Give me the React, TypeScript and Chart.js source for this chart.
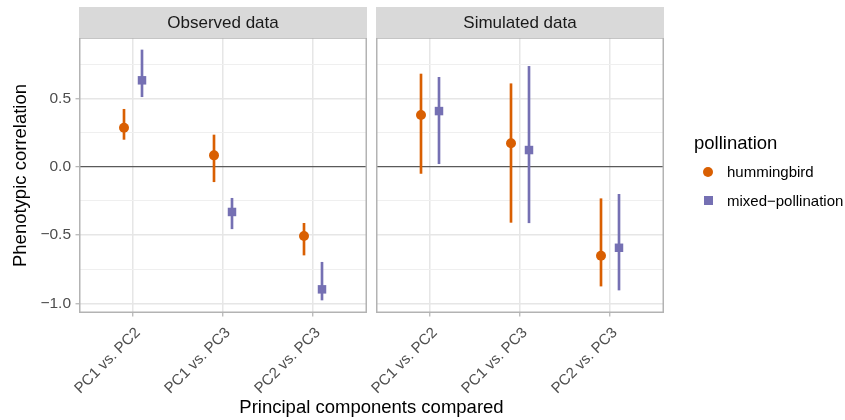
import React, { useEffect, useRef } from 'react';
import { Chart, registerables } from 'chart.js';

Chart.register(...registerables);

// ---- data ----
const categories = ['PC1 vs. PC2', 'PC1 vs. PC3', 'PC2 vs. PC3'];
const panels = ['Observed data', 'Simulated data'];
const groups = ['hummingbird', 'mixed\u2212pollination'];

const obsHumEst = [0.285, 0.083, -0.507];
const obsHumLo = [0.2, -0.11, -0.646];
const obsHumHi = [0.42, 0.232, -0.414];
const obsMixEst = [0.632, -0.331, -0.897];
const obsMixLo = [0.512, -0.454, -0.975];
const obsMixHi = [0.854, -0.231, -0.699];

const simHumEst = [0.378, 0.171, -0.651];
const simHumLo = [-0.049, -0.407, -0.873];
const simHumHi = [0.678, 0.607, -0.234];
const simMixEst = [0.407, 0.122, -0.593];
const simMixLo = [0.022, -0.41, -0.902];
const simMixHi = [0.654, 0.734, -0.202];

const yMajorTicks = [-1, -0.5, 0, 0.5];
const yMinorTicks = [-0.75, -0.25, 0.25, 0.75];

// ---- styling / layout ----
const ORANGE = '#D95F02';
const PURPLE = '#7570B3';
const FONT = "'Liberation Sans', Arial, Helvetica, sans-serif";
const PANEL_SHIFT = 3.3; // second facet shifted along the shared x scale
const DODGE = 0.1;
const PANEL_RANGES = [
  [0.4, 3.6],
  [0.4 + PANEL_SHIFT, 3.6 + PANEL_SHIFT],
];

const catPos = (i: number, p: number) => i + 1 + p * PANEL_SHIFT;

function points(estA: number[], estB: number[], dodge: number) {
  const out: { x: number; y: number }[] = [];
  estA.forEach((v, i) => out.push({ x: catPos(i, 0) + dodge, y: v }));
  estB.forEach((v, i) => out.push({ x: catPos(i, 1) + dodge, y: v }));
  return out;
}
function ranges(loA: number[], hiA: number[], loB: number[], hiB: number[], dodge: number) {
  const out: { x: number; y: [number, number] }[] = [];
  loA.forEach((v, i) => out.push({ x: catPos(i, 0) + dodge, y: [v, hiA[i]] }));
  loB.forEach((v, i) => out.push({ x: catPos(i, 1) + dodge, y: [v, hiB[i]] }));
  return out;
}

const fmt = (v: number) => (v < 0 ? '\u2212' : '') + Math.abs(v).toFixed(1);

const panelPlugin = {
  id: 'facetPanels',
  beforeDatasetsDraw(chart: any) {
    const { ctx, chartArea, scales } = chart;
    const x = scales.x;
    const gl = x.getPixelForValue(PANEL_RANGES[0][1]);
    const gr = x.getPixelForValue(PANEL_RANGES[1][0]);
    ctx.save();
    ctx.fillStyle = '#FFFFFF';
    ctx.fillRect(gl, chartArea.top - 2, gr - gl, chartArea.bottom - chartArea.top + 4);
    ctx.restore();
  },
  afterDatasetsDraw(chart: any) {
    const { ctx, chartArea, scales } = chart;
    const x = scales.x;
    ctx.save();
    PANEL_RANGES.forEach((r, p) => {
      const l = x.getPixelForValue(r[0]);
      const rr = x.getPixelForValue(r[1]);
      // border
      ctx.strokeStyle = '#B3B3B3';
      ctx.lineWidth = 1.5;
      ctx.strokeRect(l + 0.75, chartArea.top, rr - l - 1.5, chartArea.bottom - chartArea.top - 0.75);
      // strip
      ctx.fillStyle = '#D9D9D9';
      ctx.fillRect(l, 7, rr - l, chartArea.top - 7);
      ctx.fillStyle = '#1A1A1A';
      ctx.font = `17px ${FONT}`;
      ctx.textAlign = 'center';
      ctx.textBaseline = 'middle';
      ctx.fillText(panels[p], (l + rr) / 2, (7 + chartArea.top) / 2 + 0.5);
    });
    ctx.restore();
  },
};

export default function App() {
  const ref = useRef<HTMLCanvasElement>(null);

  useEffect(() => {
    if (!ref.current) return;
    const xTickVals = [0, 1].flatMap((p) => categories.map((_, i) => catPos(i, p)));
    const chart = new Chart(ref.current, {
      type: 'scatter',
      data: {
        datasets: [
          {
            type: 'scatter',
            label: groups[0],
            data: points(obsHumEst, simHumEst, -DODGE),
            backgroundColor: ORANGE,
            borderColor: ORANGE,
            pointStyle: 'circle',
            pointRadius: 5,
            borderWidth: 0,
            order: 1,
          },
          {
            type: 'scatter',
            label: groups[1],
            data: points(obsMixEst, simMixEst, DODGE),
            backgroundColor: PURPLE,
            borderColor: PURPLE,
            pointStyle: 'rect',
            pointRadius: 6,
            borderWidth: 0,
            order: 1,
          },
          {
            type: 'bar',
            label: groups[0] + ' range',
            data: ranges(obsHumLo, obsHumHi, simHumLo, simHumHi, -DODGE) as any,
            backgroundColor: ORANGE,
            barThickness: 2,
            grouped: false,
            order: 2,
          },
          {
            type: 'bar',
            label: groups[1] + ' range',
            data: ranges(obsMixLo, obsMixHi, simMixLo, simMixHi, DODGE) as any,
            backgroundColor: PURPLE,
            barThickness: 2,
            grouped: false,
            order: 2,
          },
        ],
      },
      options: {
        responsive: false,
        animation: false,
        layout: { padding: { left: 0, right: 181, top: 38, bottom: 0 } },
        plugins: { legend: { display: false }, tooltip: { enabled: false } },
        scales: {
          x: {
            type: 'linear',
            min: PANEL_RANGES[0][0],
            max: PANEL_RANGES[1][1],
            offset: false,
            border: { display: false },
            grid: {
              color: '#E6E6E6',
              lineWidth: 1.5,
              drawTicks: true,
              tickLength: 3.5,
              tickColor: '#B3B3B3',
              tickWidth: 1.2,
              offset: false,
            },
            afterBuildTicks: (scale: any) => {
              scale.ticks = xTickVals.map((v) => ({ value: v }));
            },
            afterFit: (scale: any) => {
              scale.height = 107;
              scale.paddingLeft = 0;
              scale.paddingRight = 0;
            },
            ticks: {
              autoSkip: false,
              maxRotation: 45,
              minRotation: 45,
              padding: 7.5,
              labelOffset: 5,
              color: '#4D4D4D',
              font: { family: FONT, size: 15 },
              callback: (_v: any, i: number) => categories[i % categories.length],
            },
            title: {
              display: true,
              text: 'Principal components compared',
              color: '#000000',
              font: { family: FONT, size: 18.5 },
              padding: { top: 0, bottom: 1 },
            },
          },
          y: {
            type: 'linear',
            min: -1.07,
            max: 0.9415,
            border: { display: false },
            afterBuildTicks: (scale: any) => {
              scale.ticks = [...yMajorTicks, ...yMinorTicks]
                .sort((a, b) => a - b)
                .map((v) => ({ value: v }));
            },
            afterFit: (scale: any) => {
              scale.width = 79;
              scale.paddingTop = 0;
              scale.paddingBottom = 0;
            },
            grid: {
              drawTicks: true,
              tickLength: 3.5,
              tickWidth: 1.2,
              tickColor: (c: any) => (yMajorTicks.includes(c.tick?.value) ? '#B3B3B3' : 'rgba(0,0,0,0)'),
              color: (c: any) =>
                c.tick && c.tick.value === 0
                  ? '#5A5A5A'
                  : yMajorTicks.includes(c.tick?.value)
                  ? '#E6E6E6'
                  : '#EFEFEF',
              lineWidth: (c: any) =>
                c.tick && c.tick.value === 0 ? 1.3 : yMajorTicks.includes(c.tick?.value) ? 1.5 : 1,
            },
            ticks: {
              padding: 4.5,
              color: '#4D4D4D',
              font: { family: FONT, size: 15.5 },
              callback: (v: any) => (yMajorTicks.includes(Number(v)) ? fmt(Number(v)) : ''),
            },
            title: {
              display: true,
              text: 'Phenotypic correlation',
              color: '#000000',
              font: { family: FONT, size: 18.5 },
              padding: { top: 10, bottom: 0 },
            },
          },
        },
      },
      plugins: [panelPlugin],
    } as any);
    return () => chart.destroy();
  }, []);

  const legendText: React.CSSProperties = {
    position: 'absolute',
    fontFamily: FONT,
    color: '#000',
    whiteSpace: 'nowrap',
  };

  return (
    <div style={{ position: 'absolute', left: 0, top: 0, width: 845, height: 420, background: '#fff' }}>
      <canvas ref={ref} width={845} height={420} style={{ position: 'absolute', left: 0, top: 0 }} />
      <div style={{ ...legendText, left: 694, top: 131, fontSize: 18.5, lineHeight: '24px' }}>pollination</div>
      <div
        style={{
          position: 'absolute',
          left: 703.3,
          top: 166.5,
          width: 10,
          height: 10,
          borderRadius: '50%',
          background: ORANGE,
        }}
      />
      <div style={{ ...legendText, left: 727, top: 161.5, fontSize: 15, lineHeight: '20px' }}>{groups[0]}</div>
      <div
        style={{
          position: 'absolute',
          left: 704,
          top: 196,
          width: 9,
          height: 9,
          background: PURPLE,
        }}
      />
      <div style={{ ...legendText, left: 727, top: 191, fontSize: 15, lineHeight: '20px' }}>{groups[1]}</div>
    </div>
  );
}
